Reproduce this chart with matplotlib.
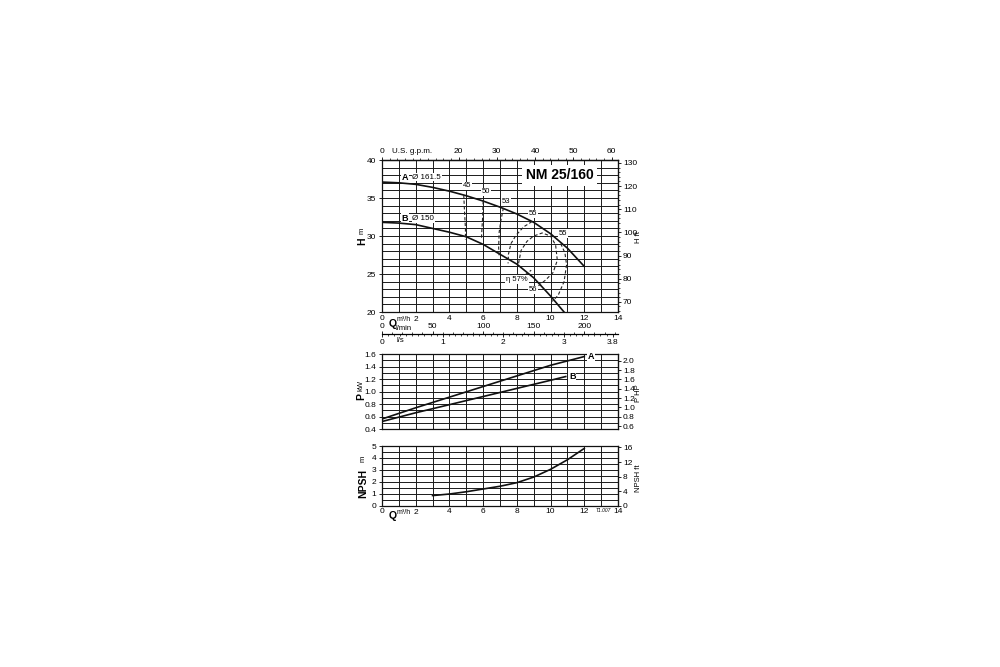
import matplotlib
matplotlib.use('Agg')
import matplotlib.pyplot as plt
import numpy as np
from matplotlib.ticker import MultipleLocator, FixedLocator

plt.rcParams['font.family'] = ['Liberation Sans', 'DejaVu Sans']

# --- values (Q in m3/h) ---
# head curves
q_a = [0, 1, 2, 3, 4, 5, 6, 7, 8, 9, 10, 11, 12]
h_a = [37.1, 37.0, 36.8, 36.4, 35.9, 35.3, 34.6, 33.8, 32.9, 31.8, 30.3, 28.4, 26.0]
q_b = [0, 1, 2, 3, 4, 5, 6, 7, 8, 9, 10, 10.8]
h_b = [31.8, 31.7, 31.5, 31.0, 30.5, 29.9, 28.9, 27.6, 26.3, 24.5, 22.1, 20.0]

# efficiency iso-lines (dashed)
eff_45_q = [4.85, 4.9, 4.95, 4.95]
eff_45_h = [35.4, 33.0, 31.0, 29.5]
eff_50_q = [6.0, 5.97, 5.93, 5.9]
eff_50_h = [34.6, 32.5, 31.0, 29.7]
eff_53_q = [7.2, 7.05, 6.95, 6.92, 6.95]
eff_53_h = [33.7, 32.0, 30.5, 28.5, 27.3]
eff_55a_q = [8.9, 8.4, 7.95, 7.65, 7.5, 7.48]
eff_55a_h = [31.9, 31.2, 30.1, 29.0, 27.6, 26.4]
eff_55b_q = [10.6, 10.85, 10.95, 10.8, 10.45, 10.1]
eff_55b_h = [29.0, 27.8, 26.2, 24.0, 22.2, 21.4]
eff_56_q = [8.1, 8.25, 8.6, 9.0, 9.5, 10.0, 10.3, 10.4, 10.15, 9.7, 9.25]
eff_56_h = [26.4, 28.1, 29.3, 30.0, 30.4, 30.0, 28.8, 26.8, 25.2, 24.2, 23.4]
eff_57_q = [8.5, 8.85]
eff_57_h = [24.9, 25.5]

eff_labels = ['45', '50', '53', '55', '55', '\u03b7 57%', '56']
eff_label_q = [5.04, 6.17, 7.36, 8.96, 10.73, 8.0, 8.96]
eff_label_h = [36.6, 35.8, 34.6, 32.9, 30.3, 24.3, 22.9]

# power curves
q_pa = [0, 2, 4, 6, 8, 10, 12]
p_a = [0.56, 0.74, 0.91, 1.08, 1.25, 1.42, 1.56]
q_pb = [0, 2, 4, 6, 8, 10, 10.9]
p_b = [0.52, 0.66, 0.79, 0.92, 1.05, 1.18, 1.24]

# NPSH curve
q_npsh = [3, 4, 5, 6, 7, 8, 9, 10, 11, 12]
npsh = [0.85, 0.98, 1.17, 1.4, 1.63, 1.93, 2.4, 3.05, 3.85, 4.8]

# tick values of the scales
q_ticks = [0, 2, 4, 6, 8, 10, 12, 14]
q_ticklabels = ['0', '', '4', '6', '8', '10', '12', '14']
gpm_ticks = [0, 20, 30, 40, 50, 60]
lmin_ticks = [0, 50, 100, 150, 200]
ls_ticks = [0, 1, 2, 3, 3.8]
ls_ticklabels = ['0', '1', '2', '3', '3.8']
ft_ticks = [70, 80, 90, 100, 110, 120, 130]
hp_ticks = [0.6, 0.8, 1.0, 1.2, 1.4, 1.6, 1.8, 2.0]
npsh_ft_ticks = [0, 4, 8, 12, 16]

M2FT = 3.2808
M3H2GPM = 4.403
M3H2LMIN = 1000 / 60
M3H2LS = 1 / 3.6
KW2HP = 1.341

GRID = dict(color='#1a1a1a', linewidth=0.7)
TF = 6  # tick font size
WHITE = dict(facecolor='white', edgecolor='none', pad=0.6)


def fx(px):
    return px / 1000


def fy(py):
    return 1 - py / 667


def base_axes(ax, ylim, y_major, y_minor):
    ax.set_xlim(0, 14)
    ax.set_ylim(*ylim)
    ax.set_xticks(q_ticks)
    ax.set_xticks(np.arange(0, 15, 1), minor=True)
    ax.set_yticks(np.arange(ylim[0], ylim[1] + 1e-6, y_major))
    ax.set_yticks(np.arange(ylim[0], ylim[1] + 1e-6, y_minor), minor=True)
    ax.grid(True, which='both', **GRID)
    ax.set_axisbelow(True)
    for s in ax.spines.values():
        s.set_linewidth(0.9)
        s.set_color('#111111')
    ax.tick_params(axis='x', which='both', length=0, labelsize=TF, pad=2)
    ax.tick_params(axis='y', which='major', length=2.5, width=0.6, direction='out',
                   labelsize=TF, pad=1.5)
    ax.tick_params(axis='y', which='minor', length=0)


fig = plt.figure(figsize=(10, 6.67), dpi=100)

# ---------------- head chart ----------------
ax1 = fig.add_axes([0.382, 0.5322, 0.236, 0.2279])
base_axes(ax1, (20, 40), 5, 1)
ax1.set_yticklabels(['20', '25', '30', '35', '40'])
ax1.plot(q_a, h_a, color='#111111', lw=1.2, zorder=3)
ax1.plot(q_b, h_b, color='#111111', lw=1.2, zorder=3)

for qq, hh in [(eff_45_q, eff_45_h), (eff_50_q, eff_50_h), (eff_53_q, eff_53_h),
               (eff_55a_q, eff_55a_h), (eff_55b_q, eff_55b_h), (eff_56_q, eff_56_h),
               (eff_57_q, eff_57_h)]:
    ax1.plot(qq, hh, color='#222222', lw=0.8, ls=(0, (3, 2)), zorder=3)

for lab, qq, hh in zip(eff_labels, eff_label_q, eff_label_h):
    ax1.text(qq, hh, lab, fontsize=5.5, ha='center', va='center', zorder=4, bbox=WHITE)

ax1.text(1.36, 37.75, 'A', fontsize=6.5, fontweight='bold', ha='center', va='center',
         zorder=2.5, bbox=WHITE)
ax1.text(1.8, 37.75, '\u00d8 161.5', fontsize=5.8, ha='left', va='center', zorder=2.5,
         bbox=WHITE)
ax1.text(1.36, 32.3, 'B', fontsize=6.5, fontweight='bold', ha='center', va='center',
         zorder=2.5, bbox=WHITE)
ax1.text(1.8, 32.3, '\u00d8 150', fontsize=5.8, ha='left', va='center', zorder=2.5,
         bbox=WHITE)
ax1.text(10.55, 38.0, 'NM 25/160', fontsize=10, fontweight='bold', ha='center',
         va='center', zorder=4, bbox=dict(facecolor='white', edgecolor='none', pad=2.5))

ax1.set_xticklabels(q_ticklabels)
ax1.text(0.62, 19.05, 'Q', fontsize=7.5, fontweight='bold', ha='center', va='top')
ax1.text(1.72, 19.45, 'm\u00b3/h', fontsize=5, ha='right', va='top')
ax1.text(2.0, 19.45, '2', fontsize=TF, ha='center', va='top')

# top: U.S. g.p.m.
sec_gpm = ax1.secondary_xaxis('top', functions=(lambda q: q * M3H2GPM, lambda g: g / M3H2GPM))
sec_gpm.xaxis.set_major_locator(FixedLocator(gpm_ticks))
sec_gpm.xaxis.set_minor_locator(MultipleLocator(2))
sec_gpm.tick_params(which='major', length=2.5, width=0.6, labelsize=TF, pad=1)
sec_gpm.tick_params(which='minor', length=1.5, width=0.5)
sec_gpm.spines['top'].set_linewidth(0.9)
ax1.text(0.6, 40.6, 'U.S. g.p.m.', fontsize=5.8, ha='left', va='bottom')

# right: H ft
sec_ft = ax1.secondary_yaxis('right', functions=(lambda m: m * M2FT, lambda f: f / M2FT))
sec_ft.yaxis.set_major_locator(FixedLocator(ft_ticks))
sec_ft.yaxis.set_minor_locator(MultipleLocator(2))
sec_ft.tick_params(which='major', length=2.5, width=0.6, labelsize=TF, pad=1)
sec_ft.tick_params(which='minor', length=1.5, width=0.5)

# l/min and l/s scale lines under the head chart
sec_lmin = ax1.secondary_xaxis(-0.145, functions=(lambda q: q * M3H2LMIN,
                                                  lambda v: v / M3H2LMIN))
sec_lmin.set_alignment('top')
sec_lmin.xaxis.set_major_locator(FixedLocator(lmin_ticks))
sec_lmin.xaxis.set_minor_locator(MultipleLocator(10))
sec_lmin.tick_params(which='major', length=2.5, width=0.6, labelsize=TF, pad=0.2)
sec_lmin.tick_params(which='minor', length=1.5, width=0.5)
for s in sec_lmin.spines.values():
    s.set_linewidth(0.8)

sec_ls = ax1.secondary_xaxis(-0.145, functions=(lambda q: q * M3H2LS, lambda v: v / M3H2LS))
sec_ls.xaxis.set_major_locator(FixedLocator(ls_ticks))
sec_ls.xaxis.set_major_formatter(plt.FixedFormatter(ls_ticklabels))
sec_ls.xaxis.set_minor_locator(MultipleLocator(0.1))
sec_ls.tick_params(which='major', length=2.5, width=0.6, labelsize=TF, pad=1)
sec_ls.tick_params(which='minor', length=1.5, width=0.5)
for s in sec_ls.spines.values():
    s.set_linewidth(0.8)

fig.text(fx(404), fy(328.5), 'l/min', fontsize=5.5, ha='center', va='center')
fig.text(fx(400), fy(340.5), 'l/s', fontsize=5.5, ha='center', va='center')

fig.text(fx(362), fy(241), 'H', fontsize=7.5, fontweight='bold', rotation=90,
         ha='center', va='center')
fig.text(fx(362), fy(231), 'm', fontsize=5.5, rotation=90, ha='center', va='center')
fig.text(fx(639), fy(237), 'H ft', fontsize=5.5, rotation=90, ha='center', va='center')

# ---------------- power chart ----------------
ax2 = fig.add_axes([0.382, 0.3568, 0.236, 0.1124])
base_axes(ax2, (0.4, 1.6), 0.2, 0.1)
ax2.set_xticklabels([])
ax2.yaxis.set_major_formatter(plt.FuncFormatter(lambda v, p: f'{v:.1f}'))
ax2.plot(q_pa, p_a, color='#111111', lw=1.2, zorder=3)
ax2.plot(q_pb, p_b, color='#111111', lw=1.2, zorder=3)
ax2.text(12.2, 1.565, 'A', fontsize=6.5, fontweight='bold', ha='left', va='center',
         zorder=4, bbox=WHITE)
ax2.text(11.1, 1.245, 'B', fontsize=6.5, fontweight='bold', ha='left', va='center',
         zorder=4, bbox=WHITE)

sec_hp = ax2.secondary_yaxis('right', functions=(lambda k: k * KW2HP, lambda h: h / KW2HP))
sec_hp.yaxis.set_major_locator(FixedLocator(hp_ticks))
sec_hp.yaxis.set_major_formatter(plt.FuncFormatter(lambda v, p: f'{v:.1f}'))
sec_hp.tick_params(which='major', length=2.5, width=0.6, labelsize=TF, pad=1)

fig.text(fx(361), fy(396), 'P', fontsize=7.5, fontweight='bold', rotation=90,
         ha='center', va='center')
fig.text(fx(361), fy(385), 'kW', fontsize=5.5, rotation=90, ha='center', va='center')
fig.text(fx(638), fy(393), 'P HP', fontsize=5.5, rotation=90, ha='center', va='center')

# ---------------- NPSH chart ----------------
ax3 = fig.add_axes([0.382, 0.2418, 0.236, 0.0895])
base_axes(ax3, (0, 5), 1, 0.5)
ax3.set_yticklabels(['0', '1', '2', '3', '4', '5'])
ax3.set_xticklabels(q_ticklabels)
ax3.plot(q_npsh, npsh, color='#111111', lw=1.2, zorder=3)
ax3.text(0.62, -0.45, 'Q', fontsize=7.5, fontweight='bold', ha='center', va='top')
ax3.text(1.72, -0.25, 'm\u00b3/h', fontsize=5, ha='right', va='top')
ax3.text(2.0, -0.25, '2', fontsize=TF, ha='center', va='top')
ax3.text(13.1, -0.2, 'T1.007', fontsize=3.5, style='italic', ha='center', va='top')

sec_nft = ax3.secondary_yaxis('right', functions=(lambda m: m * M2FT, lambda f: f / M2FT))
sec_nft.yaxis.set_major_locator(FixedLocator(npsh_ft_ticks))
sec_nft.tick_params(which='major', length=2.5, width=0.6, labelsize=TF, pad=1)

fig.text(fx(363), fy(483), 'NPSH', fontsize=7.5, fontweight='bold', rotation=90,
         ha='center', va='center')
fig.text(fx(363), fy(459), 'm', fontsize=5.5, rotation=90, ha='center', va='center')
fig.text(fx(638), fy(478), 'NPSH ft', fontsize=5.5, rotation=90, ha='center', va='center')

fig.savefig('out.png', dpi=100, facecolor='white')
